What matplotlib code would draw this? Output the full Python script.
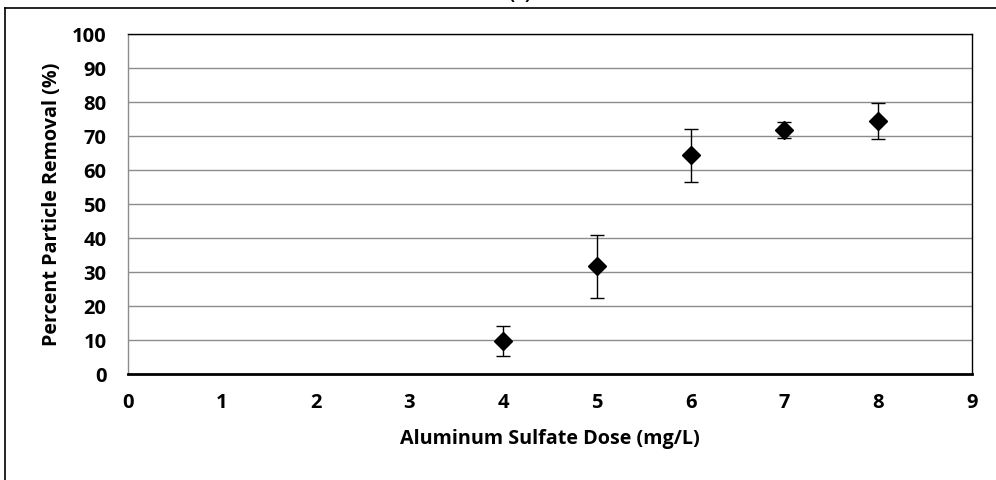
import matplotlib
matplotlib.use("Agg")
import matplotlib.pyplot as plt
from matplotlib.lines import Line2D

# Alum dose vs. particle removal
dose = [4, 5, 6, 7, 8]
removal = [9.7, 31.7, 64.4, 71.8, 74.4]
err_low = [4.4, 9.3, 7.9, 2.4, 5.3]
err_high = [4.4, 9.2, 7.6, 2.3, 5.3]
x_ticks = list(range(0, 10))
y_ticks = list(range(0, 101, 10))

W, H = 996, 480
fig = plt.figure(figsize=(W / 100, H / 100), dpi=100)
plt.rcParams['font.family'] = ['Open Sans', 'DejaVu Sans']

# plot area in pixel coordinates
left, right, top, bottom = 128, 972, 34, 374
ax = fig.add_axes([left / W, 1 - bottom / H, (right - left) / W, (bottom - top) / H])

ax.set_xlim(0, 9)
ax.set_ylim(0, 100)
ax.set_xticks(x_ticks)
ax.set_yticks(y_ticks)
ax.grid(axis='y', color='#8c8c8c', linewidth=1.0)
ax.set_axisbelow(True)

ax.errorbar(dose, removal, yerr=[err_low, err_high], fmt='D', color='black',
            markersize=8.7, ecolor='black', elinewidth=1.0, capsize=5,
            capthick=1.0, zorder=3)

for s in ['top', 'right']:
    ax.spines[s].set_color('black')
    ax.spines[s].set_linewidth(1.0)
ax.spines['left'].set_color('#8c8c8c')
ax.spines['left'].set_linewidth(1.0)
ax.spines['bottom'].set_color('black')
ax.spines['bottom'].set_linewidth(2.0)

ax.tick_params(axis='both', length=0, labelsize=14.5)
ax.tick_params(axis='x', pad=14)
ax.tick_params(axis='y', pad=15.5)
for lab in ax.get_xticklabels() + ax.get_yticklabels():
    lab.set_fontweight('bold')

ax.set_xlabel('Aluminum Sulfate Dose (mg/L)', fontsize=14.2, fontweight='bold', labelpad=11)
ax.set_ylabel('Percent Particle Removal (%)', fontsize=14.2, fontweight='bold', labelpad=7)

# outer chart frame
fig.add_artist(Line2D([5 / W, 1.0], [1 - 8 / H, 1 - 8 / H], transform=fig.transFigure,
                      color='black', linewidth=1.2))
fig.add_artist(Line2D([5 / W, 5 / W], [0.0, 1 - 8 / H], transform=fig.transFigure,
                      color='black', linewidth=1.2))

fig.text(520 / W, 1 + 6 / H, '(a)', ha='center', va='center', fontsize=13,
         fontweight='bold')

fig.savefig('out.png', dpi=100)
